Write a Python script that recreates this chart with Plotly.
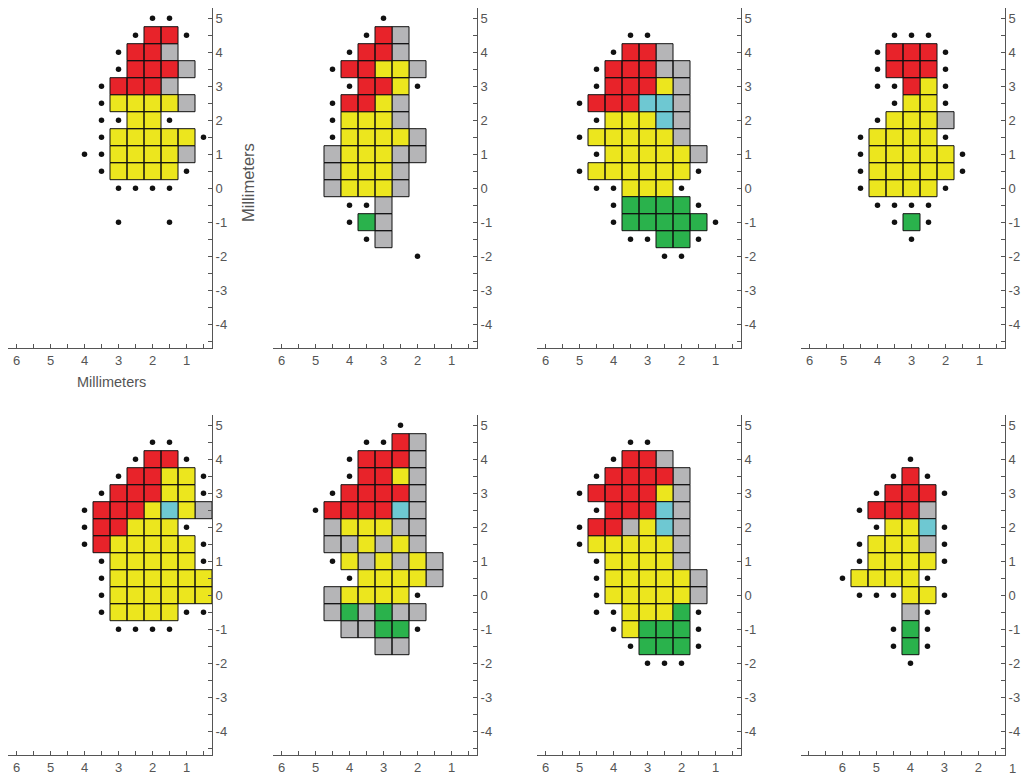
import plotly.graph_objects as go

# ---------------- data ----------------
# Each grid row is one y value (top row = Y_TOP, stepping down by 0.5 mm);
# each character is one column (left column = X_LEFT, stepping down by 0.5 mm, x axis reversed).
# R = red, Y = yellow, G = gray, C = cyan, N = green, o = black dot, . = empty
GRID_1 = [
    "....oo..",
    "...oRRo.",
    "..oRRG..",
    "..oRRRG.",
    ".oRRRG..",
    ".oYYYYG.",
    ".ooYYo..",
    ".oYYYYYo",
    "ooYYYYG.",
    ".oYYYYo.",
    "..oooo..",
    "........",
    "..o..o..",
]
GRID_2 = [
    "...o..",
    "..oRG.",
    ".oRRG.",
    "oRRYYG",
    ".oRRYo",
    "oRRYG.",
    "oYYYG.",
    "oYYYYG",
    "GYYYGG",
    "GYYYG.",
    "GYYYG.",
    ".ooG..",
    ".oNG..",
    "..oG..",
    ".....o",
]
GRID_3 = [
    "...oo....",
    "..oRRG...",
    ".oRRRGG..",
    ".oRRRYG..",
    "oRRRCCG..",
    ".oYYYCG..",
    "oYYYYYG..",
    ".oYYYYYG.",
    "oYYYYYYo.",
    ".ooYYYo..",
    "..oNNNNo.",
    "..oNNNNNo",
    "...ooNNo.",
    ".....oo..",
]
GRID_4 = [
    "..ooo..",
    ".oRRRo.",
    ".oRRRo.",
    ".ooRYo.",
    "..oYYo.",
    ".oYYYG.",
    "oYYYYo.",
    "oYYYYYo",
    "oYYYYYo",
    "oYYYYo.",
    ".oooo..",
    "..oNo..",
    "...o...",
]
GRID_5 = [
    "....oo..",
    "...oRRo.",
    "..oRRYYo",
    ".oRRRYYo",
    "oRRRYCYG",
    "oRRYYYo.",
    "oRYYYYYo",
    ".oYYYYYo",
    ".oYYYYYY",
    ".oYYYYYY",
    ".oYYYYoo",
    "..oooo..",
]
GRID_6 = [
    ".....o..",
    "...ooRG.",
    "..oRRRG.",
    "..oRRYG.",
    ".oRRRRG.",
    "oRRRRCG.",
    ".GYYYGG.",
    ".GGYGYG.",
    ".oYGYGYG",
    "..oYYYYG",
    ".GYYYYo.",
    ".GNGNGG.",
    "..GGNNo.",
    "....GG..",
]
GRID_7 = [
    "...oo...",
    "..oRRG..",
    ".oRRRRG.",
    "oRRRRYG.",
    ".oRRRCG.",
    "oRRGYCG.",
    "oYYYYYG.",
    ".oYYYYG.",
    ".oYYYYYG",
    ".oYYYYYG",
    ".ooYYYNo",
    "..oYNNNo",
    "...oNNNo",
    "....ooo.",
]
GRID_8 = [
    "....o..",
    "...oRo.",
    "..oRRRo",
    ".oRRRG.",
    "..oYYCo",
    ".oYYYGo",
    ".oYYYYo",
    "oYYYYo.",
    ".oooYYo",
    "....Go.",
    "...oNo.",
    "...oNo.",
    "....o..",
]
GRIDS = [GRID_1, GRID_2, GRID_3, GRID_4, GRID_5, GRID_6, GRID_7, GRID_8]
X_LEFT = [4.0, 4.5, 5.0, 4.5, 4.0, 5.0, 5.0, 6.0]
Y_TOP = [5.0, 5.0, 4.5, 4.5, 4.5, 5.0, 4.5, 4.0]
STEP = 0.5

X_RANGES = [[6.25, 0.25]] * 7 + [[7.22, 1.22]]
Y_RANGE = [-4.7, 5.3]
Y_TICKS = [-4, -3, -2, -1, 0, 1, 2, 3, 4, 5]
X_TICKS_MAIN = [1, 2, 3, 4, 5, 6]
X_TICKS_P8 = [2, 3, 4, 5, 6, 7]
X_TEXT_P8 = ["2", "3", "4", "5", "6", ""]
P8_EXTRA_TICK = 1          # tick label drawn just beyond the axis end in the last panel
AXIS_TITLE = "Millimeters"

COLORS = {"G": "#B5B5B7", "R": "#E8232A", "Y": "#ECE61E", "C": "#6EC8D2", "N": "#2AB24C"}

# ---------------- layout geometry (pixels) ----------------
W, H = 1029, 780
COL_PX = [(8, 212), (273, 477), (537, 741), (801, 1005)]
ROW_PX = [(8, 348), (415, 755)]
AX_COLOR = "#555555"
TXT_COLOR = "#555555"
FONT = "Liberation Sans, Arial, sans-serif"

fig = go.Figure()
layout = dict(
    width=W, height=H, margin=dict(l=0, r=0, t=0, b=0),
    paper_bgcolor="white", plot_bgcolor="white", showlegend=False,
    font=dict(family=FONT, color=TXT_COLOR, size=13),
)

for i in range(8):
    r, c = divmod(i, 4)
    n = i + 1
    xa = "x" if n == 1 else f"x{n}"
    ya = "y" if n == 1 else f"y{n}"
    grid = GRIDS[i]

    cells = {k: ([], []) for k in COLORS}
    dx, dy = [], []
    for ri, row in enumerate(grid):
        cy = Y_TOP[i] - ri * STEP
        for ci, ch in enumerate(row):
            cx = X_LEFT[i] - ci * STEP
            if ch == "o":
                dx.append(cx)
                dy.append(cy)
            elif ch in COLORS:
                h = STEP / 2
                xs, ys = cells[ch]
                xs += [cx - h, cx + h, cx + h, cx - h, cx - h, None]
                ys += [cy - h, cy - h, cy + h, cy + h, cy - h, None]

    for k in ["G", "Y", "R", "C", "N"]:
        xs, ys = cells[k]
        if not xs:
            continue
        fig.add_trace(go.Scatter(
            x=xs, y=ys, mode="lines", fill="toself", fillcolor=COLORS[k],
            line=dict(color="#111111", width=1), xaxis=xa, yaxis=ya,
            hoverinfo="skip",
        ))
    fig.add_trace(go.Scatter(
        x=dx, y=dy, mode="markers", marker=dict(color="#111111", size=5.5),
        xaxis=xa, yaxis=ya, hoverinfo="skip", cliponaxis=False,
    ))

    x0, x1 = COL_PX[c]
    y0, y1 = ROW_PX[r]
    common = dict(
        showline=True, linecolor=AX_COLOR, linewidth=1, showgrid=False, zeroline=False,
        ticks="inside", ticklen=4, tickcolor=AX_COLOR, tickwidth=1,
        tickfont=dict(size=13, color=TXT_COLOR, family=FONT),
        minor=dict(dtick=STEP, tick0=0, ticks="inside", ticklen=4, tickcolor=AX_COLOR,
                   tickwidth=1, showgrid=False),
        fixedrange=True,
    )
    if i == 7:
        xt, xtt = X_TICKS_P8, X_TEXT_P8
    else:
        xt, xtt = X_TICKS_MAIN, [str(v) for v in X_TICKS_MAIN]
    layout["xaxis" if n == 1 else f"xaxis{n}"] = dict(
        domain=[x0 / W, x1 / W], range=X_RANGES[i], anchor=ya, side="bottom",
        tickvals=xt, ticktext=xtt, **common,
    )
    layout["yaxis" if n == 1 else f"yaxis{n}"] = dict(
        domain=[1 - y1 / H, 1 - y0 / H], range=Y_RANGE, anchor=xa, side="right",
        tickvals=Y_TICKS, ticktext=[str(v) for v in Y_TICKS], **common,
    )

# position of the extra "1" label in the last panel, via that axis's own linear scale
rx0, rx1 = X_RANGES[7]
px0, px1 = COL_PX[3]
extra_px = px0 + (rx0 - P8_EXTRA_TICK) / (rx0 - rx1) * (px1 - px0)

layout["annotations"] = [
    dict(text=AXIS_TITLE, xref="paper", yref="paper", x=111 / W, y=1 - 382 / H,
         showarrow=False, font=dict(size=14.5, color=TXT_COLOR, family=FONT),
         xanchor="center", yanchor="middle"),
    dict(text=AXIS_TITLE, xref="paper", yref="paper", x=248 / W, y=1 - 183 / H,
         showarrow=False, textangle=-90, font=dict(size=16.5, color=TXT_COLOR, family=FONT),
         xanchor="center", yanchor="middle"),
    dict(text=str(P8_EXTRA_TICK), xref="paper", yref="paper", x=extra_px / W, y=1 - 768 / H,
         showarrow=False, font=dict(size=13, color=TXT_COLOR, family=FONT),
         xanchor="center", yanchor="middle"),
]

fig.update_layout(**layout)
fig.write_html("out.html")
